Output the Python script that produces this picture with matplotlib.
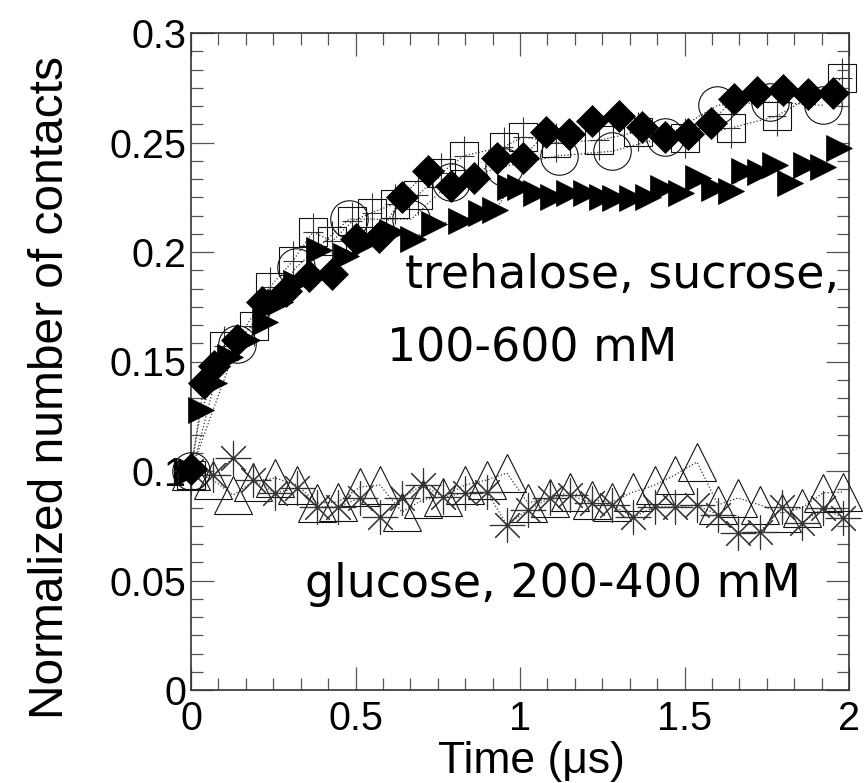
import matplotlib
matplotlib.use("Agg")
import matplotlib.pyplot as plt
from matplotlib.ticker import MultipleLocator, FixedLocator, FixedFormatter

# trehalose / sucrose runs (upper group)
dia_x = [0.0, 0.04, 0.07, 0.14, 0.215, 0.29, 0.36, 0.43, 0.50, 0.57, 0.64, 0.72, 0.79, 0.86, 0.93,
         1.01, 1.08, 1.15, 1.22, 1.30, 1.37, 1.44, 1.51, 1.58, 1.65, 1.72, 1.80, 1.875, 1.95]
dia_y = [0.101, 0.140, 0.148, 0.160, 0.177, 0.182, 0.189, 0.190, 0.206, 0.207, 0.225, 0.237, 0.230, 0.234, 0.243,
         0.243, 0.255, 0.254, 0.260, 0.262, 0.257, 0.2525, 0.254, 0.259, 0.270, 0.273, 0.274, 0.272, 0.2725]

tri_x = [0.0, 0.03, 0.07, 0.12, 0.17, 0.225, 0.27, 0.32, 0.39, 0.47, 0.53, 0.61, 0.675, 0.74, 0.82, 0.88, 0.925,
         0.97, 1.0, 1.05, 1.10, 1.15, 1.20, 1.25, 1.29, 1.34, 1.39, 1.435, 1.49, 1.54, 1.59, 1.64, 1.68, 1.73,
         1.775, 1.82, 1.87, 1.92, 1.97]
tri_y = [0.100, 0.128, 0.140, 0.152, 0.160, 0.168, 0.177, 0.186, 0.201, 0.198, 0.204, 0.209, 0.206, 0.213, 0.214,
         0.218, 0.219, 0.2297, 0.2297, 0.227, 0.225, 0.227, 0.227, 0.225, 0.2247, 0.2247, 0.225, 0.229, 0.227,
         0.234, 0.229, 0.228, 0.237, 0.2365, 0.2397, 0.2315, 0.2397, 0.2388, 0.2475]

cir_x = [0.0, 0.14, 0.32, 0.48, 0.67, 0.79, 0.95, 1.12, 1.28, 1.44, 1.60, 1.76, 1.92]
cir_y = [0.100, 0.158, 0.193, 0.215, 0.215, 0.232, 0.239, 0.244, 0.246, 0.2525, 0.267, 0.2685, 0.267]

sq_x = [0.0, 0.10, 0.19, 0.24, 0.31, 0.37, 0.43, 0.49, 0.55, 0.62, 0.69, 0.76, 0.83, 0.95, 1.01, 1.11,
        1.24, 1.36, 1.50, 1.64, 1.78, 1.98]
sq_y = [0.098, 0.157, 0.166, 0.184, 0.196, 0.209, 0.205, 0.214, 0.218, 0.222, 0.226, 0.236, 0.244, 0.248,
        0.2525, 0.250, 0.251, 0.255, 0.252, 0.2566, 0.262, 0.2795]

# glucose runs (lower group)
glu_x = [0.0, 0.067, 0.128, 0.188, 0.255, 0.322, 0.383, 0.447, 0.514, 0.574, 0.641, 0.705, 0.766, 0.833,
         0.90, 0.96, 1.024, 1.091, 1.152, 1.219, 1.28, 1.344, 1.41, 1.471, 1.538, 1.602, 1.663, 1.729,
         1.796, 1.857, 1.921, 1.982]
gtri_y = [0.100, 0.0959, 0.089, 0.095, 0.0968, 0.0936, 0.0854, 0.0858, 0.0927, 0.0936, 0.0813, 0.087,
          0.0881, 0.0936, 0.0959, 0.0991, 0.0854, 0.0877, 0.0904, 0.0868, 0.0858, 0.0904, 0.0936, 0.0982,
          0.1041, 0.0845, 0.0877, 0.0845, 0.0808, 0.0831, 0.0900, 0.0904]
ast_y = [0.100, 0.098, 0.106, 0.0959, 0.090, 0.0922, 0.0836, 0.0836, 0.0877, 0.079, 0.0877, 0.0936,
         0.0881, 0.090, 0.0904, 0.0753, 0.0822, 0.0877, 0.089, 0.0854, 0.0845, 0.079, 0.0836, 0.0836,
         0.0845, 0.0799, 0.0717, 0.0722, 0.0836, 0.0763, 0.0831, 0.0785]

x_ticks = [0, 0.5, 1, 1.5, 2]
x_labels = ["0", "0.5", "1", "1.5", "2"]
y_ticks = [0, 0.05, 0.1, 0.15, 0.2, 0.25, 0.3]
y_labels = ["0", "0.05", "0.1", "0.15", "0.2", "0.25", "0.3"]

W, H = 867, 783
fig = plt.figure(figsize=(W / 100, H / 100), dpi=100)
ax = fig.add_axes([191 / W, 93 / H, 658 / W, 657 / H])

ink = "#111111"
thin = dict(clip_on=False, zorder=3)

# raw (dotted) traces
for xs, ys in [(sq_x, sq_y), (cir_x, cir_y), (tri_x, tri_y), (dia_x, dia_y), (glu_x, gtri_y), (glu_x, ast_y)]:
    ax.plot(xs, ys, ls=":", lw=0.9, color="#333333", zorder=2, clip_on=False)

# glucose
ax.errorbar(glu_x, ast_y, xerr=0.055, yerr=0.007, fmt="none", ecolor="#333333", elinewidth=0.8,
            capsize=0, zorder=2, clip_on=False)
ax.plot(glu_x, gtri_y, ls="none", marker="^", ms=27, mfc="none", mec=ink, mew=0.8, **thin)
ax.plot(glu_x, ast_y, ls="none", marker=(8, 2, 0), ms=25, mec="#333333", mew=0.8, **thin)

# trehalose / sucrose
ax.errorbar(sq_x, sq_y, xerr=0.03, yerr=0.009, fmt="none", ecolor="#333333", elinewidth=0.8,
            capsize=0, zorder=2, clip_on=False)
ax.plot(sq_x, sq_y, ls="none", marker="s", ms=20, mfc="none", mec=ink, mew=0.8, **thin)
ax.plot(cir_x, cir_y, ls="none", marker="o", ms=27, mfc="none", mec=ink, mew=0.8, **thin)
ax.plot(tri_x, tri_y, ls="none", marker=">", ms=19, mfc="black", mec="black", mew=0.5, clip_on=False, zorder=4)
ax.plot(dia_x, dia_y, ls="none", marker="D", ms=16, mfc="black", mec="black", mew=0.5, clip_on=False, zorder=5)

ax.set_xlim(0, 2)
ax.set_ylim(0, 0.3)
ax.xaxis.set_major_locator(FixedLocator(x_ticks))
ax.xaxis.set_major_formatter(FixedFormatter(x_labels))
ax.yaxis.set_major_locator(FixedLocator(y_ticks))
ax.yaxis.set_major_formatter(FixedFormatter(y_labels))
ax.xaxis.set_minor_locator(MultipleLocator(0.5 / 6))
ax.yaxis.set_minor_locator(MultipleLocator(0.05 / 6))

ax.tick_params(which="both", direction="in", top=True, right=True, color="#555555", width=0.9)
ax.tick_params(which="major", length=16.5)
ax.tick_params(which="minor", length=8.5)
ax.tick_params(axis="y", pad=3.5)
ax.tick_params(axis="x", pad=7)
for lab in ax.get_xticklabels() + ax.get_yticklabels():
    lab.set_fontfamily("Liberation Sans")
    lab.set_fontsize(28.5)
for sp in ax.spines.values():
    sp.set_color("#333333")
    sp.set_linewidth(1.2)

ax.set_xlabel("Time (μs)", fontsize=32, family="Liberation Sans")
ax.set_ylabel("Normalized number of contacts", fontsize=34.5, family="Liberation Sans")
ax.xaxis.set_label_coords(0.518, -0.077)
ax.yaxis.set_label_coords(-0.18, 0.46)

note = dict(fontsize=33, family="DejaVu Sans", color="black", zorder=6)
ax.text(0.65, 0.1836, "trehalose, sucrose,", **note)
ax.text(0.596, 0.1498, "100-600 mM", **note)
ax.text(0.347, 0.0425, "glucose, 200-400 mM", **note)

fig.savefig("out.png", dpi=100)
